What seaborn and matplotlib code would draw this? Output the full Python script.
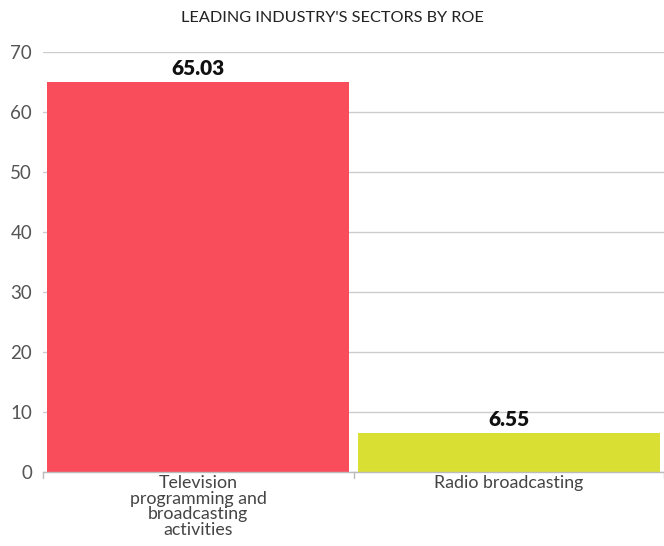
import matplotlib
matplotlib.use("Agg")
import matplotlib.pyplot as plt
import seaborn as sns
import pandas as pd

sectors = ["Television\nprogramming and\nbroadcasting\nactivities", "Radio broadcasting"]
roe = [65.03, 6.55]
bar_colors = ["#FA4D5C", "#D9E033"]
y_ticks = [0, 10, 20, 30, 40, 50, 60, 70]
title = "LEADING INDUSTRY'S SECTORS BY ROE"

sns.set_style("white")
plt.rcParams["font.family"] = ["Lato", "DejaVu Sans"]

df = pd.DataFrame({"sector": sectors, "roe": roe})

fig = plt.figure(figsize=(6.64, 5.46), dpi=100)
ax = fig.add_axes([0.065, 0.1355, 0.935, 0.7693])

sns.barplot(data=df, x="sector", y="roe", hue="sector", palette=bar_colors,
            width=0.973, legend=False, ax=ax, saturation=1, zorder=2,
            linewidth=0, edgecolor="none")

ax.set_ylim(0, 70)
ax.set_xlim(-0.5, 1.5)
ax.set_yticks(y_ticks)
ax.yaxis.grid(True, color="#cccccc", linewidth=1, zorder=0)
ax.set_axisbelow(True)
for s in ["top", "right", "left"]:
    ax.spines[s].set_visible(False)
ax.spines["bottom"].set_color("#bbbbbb")
ax.spines["bottom"].set_linewidth(1)

ax.tick_params(axis="y", length=6, color="#bbbbbb", labelsize=13.5, labelcolor="#555555", pad=2)
ax.set_xticks([0, 1])
ax.set_xticklabels(sectors, fontsize=12.8, color="#444444", linespacing=0.98)
ax.tick_params(axis="x", length=0, pad=2)
# boundary ticks between categories
for xb in [-0.5, 0.5, 1.5]:
    ax.plot([xb, xb], [0, -1.0], color="#bbbbbb", lw=1, clip_on=False)

ax.set_xlabel("")
ax.set_ylabel("")

for i, v in enumerate(roe):
    ax.text(i, v + 0.7, f"{v:.2f}", ha="center", va="bottom", fontsize=15,
            fontweight="heavy", color="#111111")

fig.text(0.5, 0.967, title, ha="center", va="center", fontsize=11.7, color="#222222")

fig.savefig("out.png", dpi=100)
